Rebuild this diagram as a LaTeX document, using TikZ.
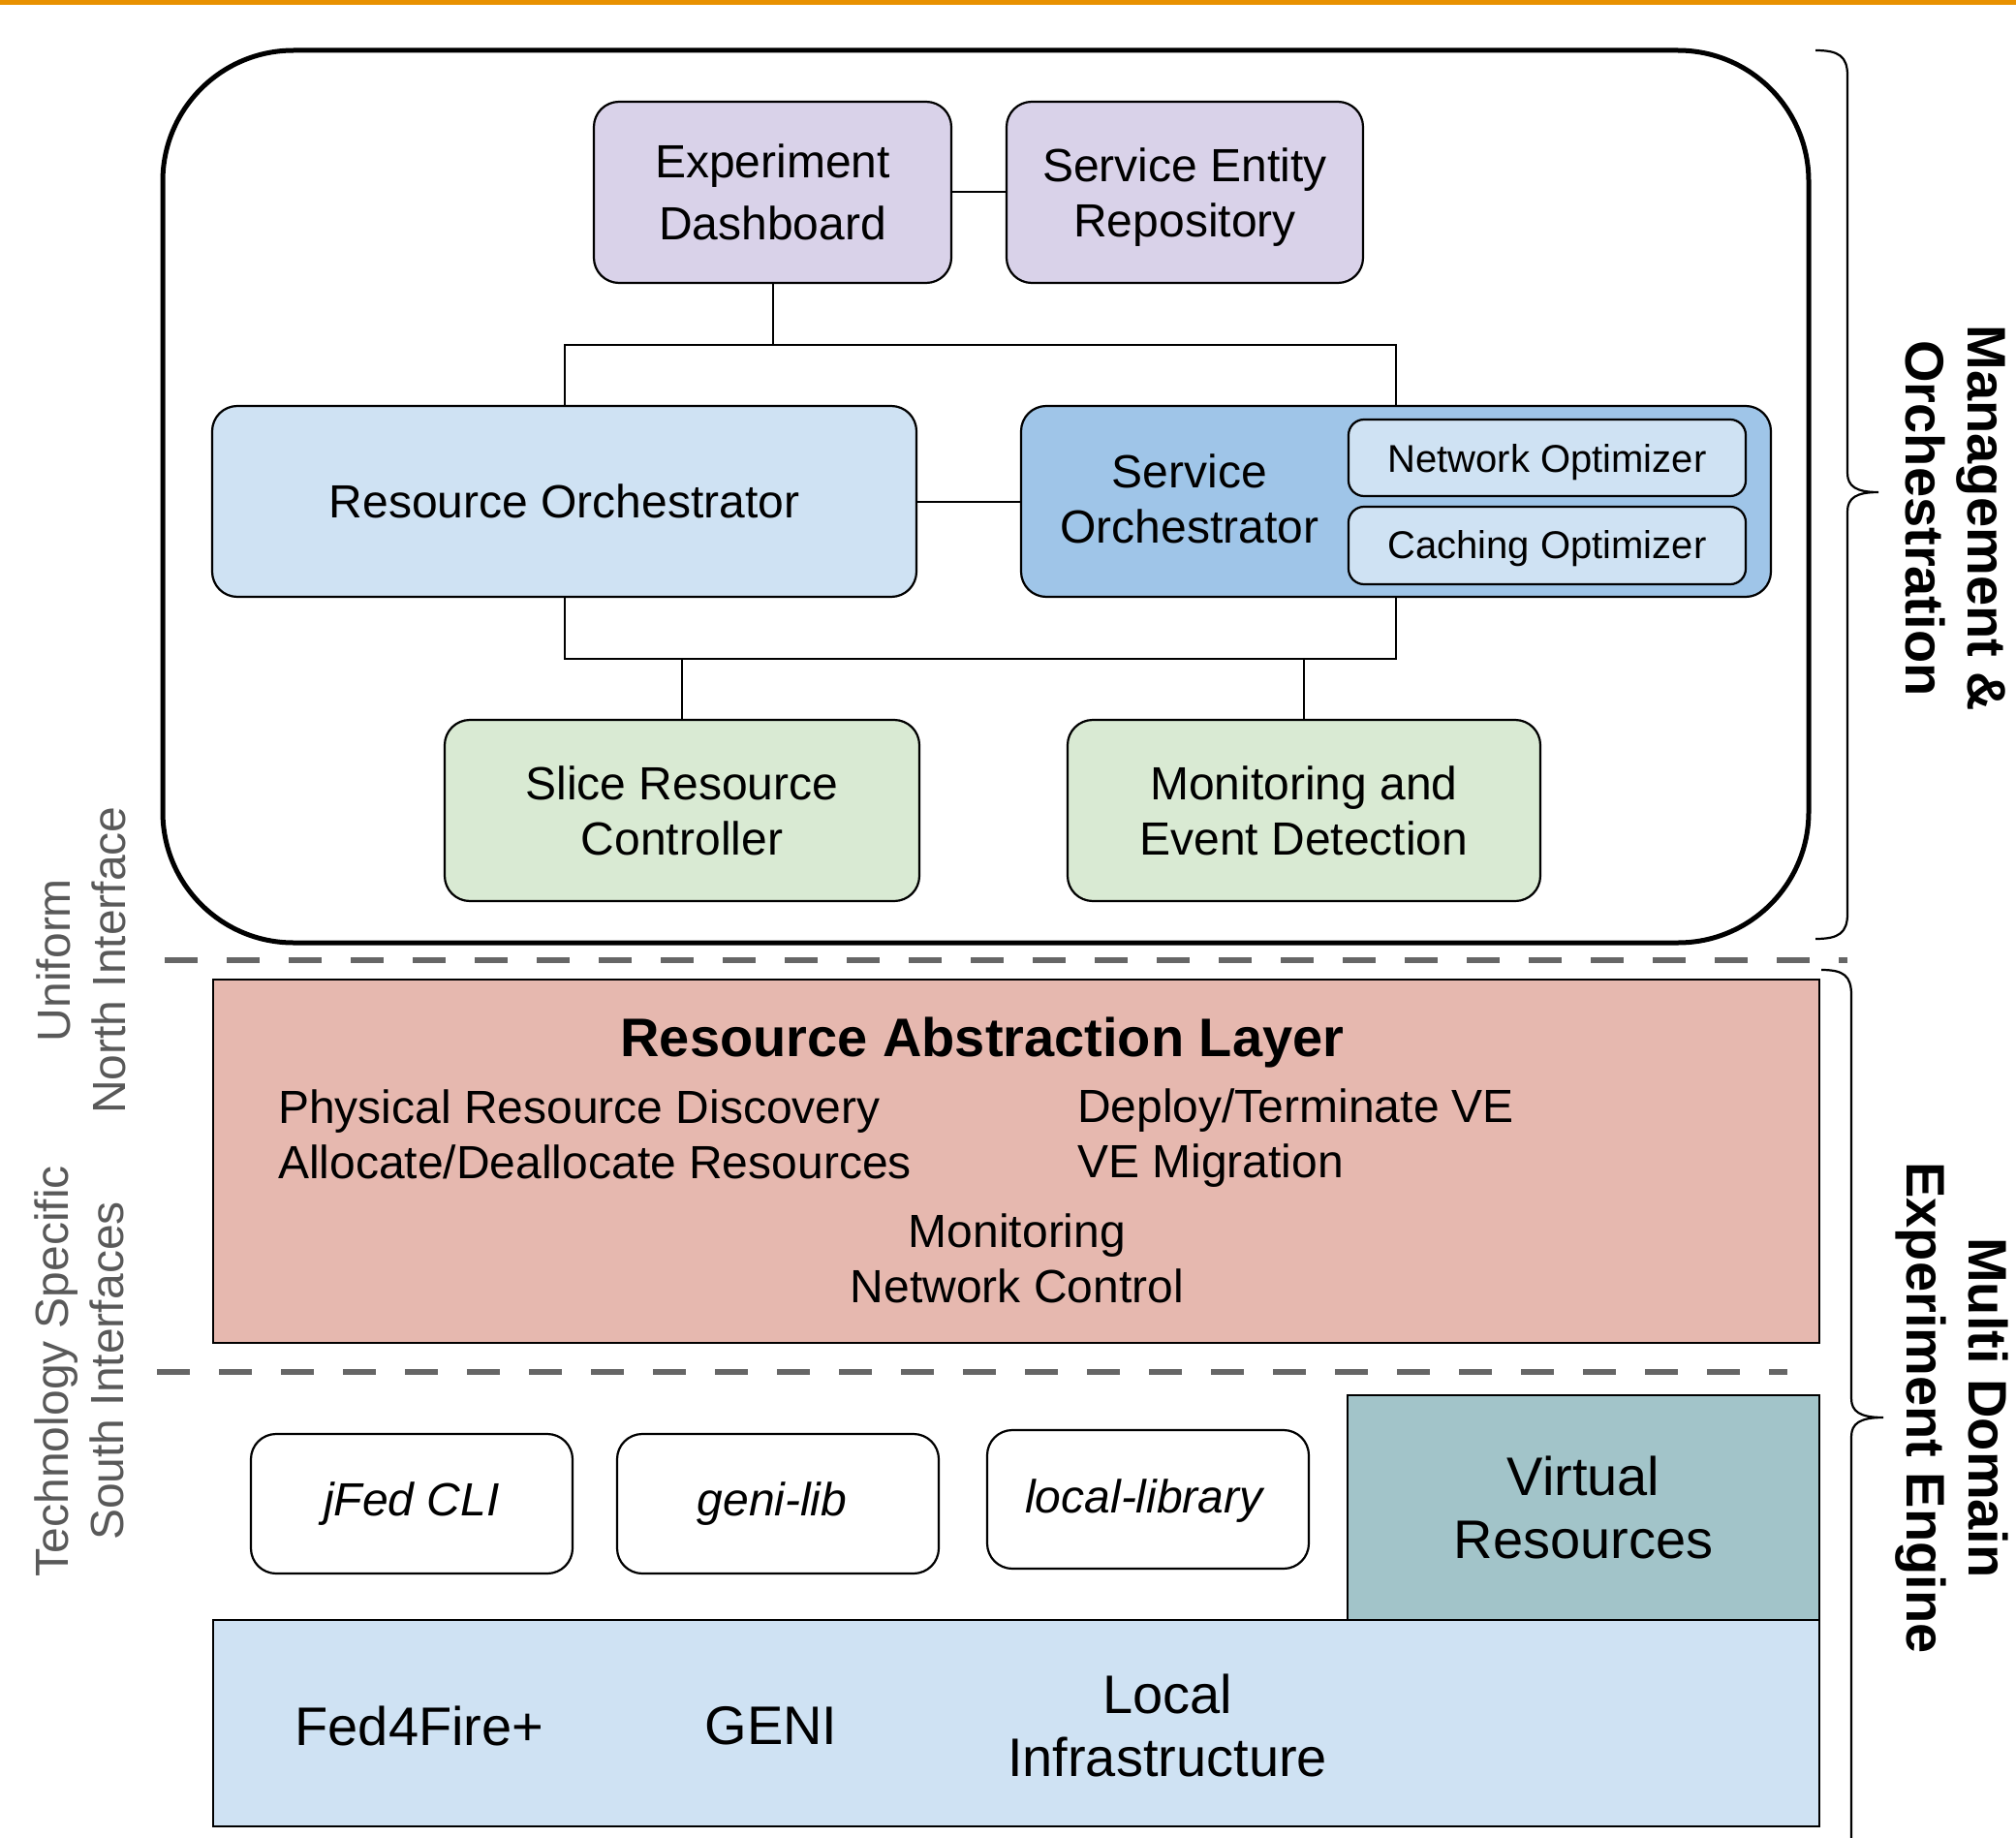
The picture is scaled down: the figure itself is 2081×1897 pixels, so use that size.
\documentclass[tikz,border=0pt]{standalone}
\usepackage{fontspec}
\setmainfont{Liberation Sans}
\definecolor{orangebar}{RGB}{232,145,0}
\definecolor{purp}{RGB}{217,210,233}
\definecolor{lblue}{RGB}{207,226,243}
\definecolor{mblue}{RGB}{159,197,232}
\definecolor{lgreen}{RGB}{217,234,211}
\definecolor{pink}{RGB}{230,184,175}
\definecolor{teal}{RGB}{162,196,201}
\definecolor{dgray}{RGB}{102,102,102}
\definecolor{lgray}{RGB}{89,89,89}
\begin{document}
\begin{tikzpicture}[x=1pt,y=-1pt,
  box/.style={draw=black, line width=2.2pt, rounded corners=26pt, inner sep=0pt, align=center, font=\fontsize{48}{57}\selectfont},
  sbox/.style={draw=black, line width=2.2pt, rounded corners=16pt, inner sep=0pt, align=center, fill=lblue, minimum width=410pt},
  flat/.style={draw=black, line width=2.2pt, inner sep=0pt, align=center},
  conn/.style={draw=black, line width=2pt},
  dashline/.style={draw=dgray, line width=5.5pt, dash pattern=on 34pt off 30pt},
  lbl/.style={inner sep=0pt, align=center, font=\fontsize{48}{57}\selectfont},
  slbl/.style={inner sep=0pt, align=center, font=\fontsize{40}{48}\selectfont},
  sidelbl/.style={inner sep=0pt, align=center, text=lgray, rotate=90, font=\fontsize{48}{57}\selectfont},
  rightlbl/.style={inner sep=0pt, align=center, rotate=-90, font=\bfseries\fontsize{56}{64}\selectfont},
  bracepath/.style={draw=black, line width=2.2pt}
]
\useasboundingbox (0,0) rectangle (2081,1897);
\fill[orangebar] (0,0) rectangle (2081,5);

% outer container
\node[draw=black, line width=5pt, rounded corners=135pt, minimum width=1699pt, minimum height=921pt, inner sep=0pt] (MO) at (1017.5,512.5) {};

% top boxes
\node[box, fill=purp, minimum width=369pt, minimum height=187pt, font=\fontsize{48}{64}\selectfont] (ED) at (797.5,198.5) {Experiment\\Dashboard};
\node[box, fill=purp, minimum width=368pt, minimum height=187pt] (SER) at (1223,198.5) {};
\node[lbl] (SERt) at (1223,204) {Service Entity\\Repository};

\node[box, fill=lblue, minimum width=727pt, minimum height=197pt] (RO) at (582.5,517.5) {Resource Orchestrator};
\node[box, fill=mblue, minimum width=774pt, minimum height=197pt] (SO) at (1441,517.5) {};
\node[lbl] (SOt) at (1228,515) {Service\\Orchestrator};
\node[sbox, minimum height=79pt] (NO) at (1597,472.5) {};
\node[slbl] (NOt) at (1597,477) {Network Optimizer};
\node[sbox, minimum height=80pt] (CO) at (1597,563) {};
\node[slbl] (COt) at (1597,566) {Caching Optimizer};

\node[box, fill=lgreen, minimum width=490pt, minimum height=187pt] (SRC) at (704,836.5) {Slice Resource\\Controller};
\node[box, fill=lgreen, minimum width=488pt, minimum height=187pt] (MED) at (1346,836.5) {Monitoring and\\Event Detection};

% connectors
\coordinate (bus1) at (797.5,356);
\coordinate (bus2) at (704,680);
\coordinate (bus3) at (1346,680);
\draw[conn] (ED.east) -- (SER.west);
\draw[conn] (ED.south) -- (bus1);
\draw[conn] (RO.north) |- (bus1) -| (SO.north);
\draw[conn] (RO.east) -- (SO.west);
\draw[conn] (RO.south) |- (bus2) -- (bus3) -| (SO.south);
\draw[conn] (bus2) -- (SRC.north);
\draw[conn] (bus3) -- (MED.north);

% dashed separators
\coordinate (d1a) at (170,991);
\coordinate (d1b) at (1907,991);
\coordinate (d2a) at (162,1416);
\coordinate (d2b) at (1845,1416);
\draw[dashline] (d1a) -- (d1b);
\draw[dashline] (d2a) -- (d2b);

% resource abstraction layer
\node[flat, fill=pink, minimum width=1658pt, minimum height=375pt] (RAL) at (1049,1198.5) {};
\node[inner sep=0pt, font=\bfseries\fontsize{56}{64}\selectfont] (RALt) at (1014,1076) {Resource Abstraction Layer};
\node[lbl, anchor=west, align=left] (RAL1) at (287,1171) {Physical Resource Discovery\\Allocate/Deallocate Resources};
\node[lbl, anchor=west, align=left] (RAL2) at (1112,1175) {Deploy/Terminate VE\\VE Migration};
\node[lbl] (RAL3) at (1050,1299) {Monitoring\\Network Control};

% libraries
\node[box, fill=white, minimum width=332pt, minimum height=144pt, font=\itshape\fontsize{48}{57}\selectfont] (JF) at (425,1552) {jFed CLI};
\node[box, fill=white, minimum width=332pt, minimum height=144pt] (GL) at (803,1552) {};
\node[inner sep=0pt, font=\itshape\fontsize{48}{57}\selectfont] (GLt) at (797,1552) {geni-lib};
\node[box, fill=white, minimum width=332pt, minimum height=143pt] (LL) at (1185,1547.5) {};
\node[inner sep=0pt, font=\itshape\fontsize{48}{57}\selectfont] (LLt) at (1181,1549) {local-library};
\node[flat, fill=teal, minimum width=487pt, minimum height=232pt, font=\fontsize{56}{65}\selectfont] (VR) at (1634.5,1556) {Virtual\\Resources};

% infrastructure
\node[flat, fill=lblue, minimum width=1658pt, minimum height=213pt] (INF) at (1049,1778.5) {};
\node[inner sep=0pt, font=\fontsize{56}{65}\selectfont] (F4F) at (433,1781) {Fed4Fire+};
\node[inner sep=0pt, font=\fontsize{56}{65}\selectfont] (GENI) at (796,1781) {GENI};
\node[inner sep=0pt, align=center, font=\fontsize{56}{65}\selectfont] (LOC) at (1205,1781) {Local\\Infrastructure};

% side labels
\node[sidelbl] (UNI) at (84,991) {Uniform\\North Interface};
\node[sidelbl] (TSS) at (82,1415) {Technology Specific\\South Interfaces};

% braces
\draw[bracepath] (1874,52) .. controls (1898,52) and (1907,58) .. (1907,78)
  -- (1907,488) .. controls (1907,502) and (1916,508) .. (1939,508)
  .. controls (1916,508) and (1907,514) .. (1907,528)
  -- (1907,943) .. controls (1907,963) and (1898,969) .. (1874,969);
\draw[bracepath] (1880,1001) .. controls (1903,1001) and (1911,1007) .. (1911,1027)
  -- (1911,1443) .. controls (1911,1457) and (1920,1463) .. (1944,1463)
  .. controls (1920,1463) and (1911,1469) .. (1911,1483)
  -- (1911,1897);

\node[rightlbl] (MOt) at (2019,535) {Management \&\\Orchestration};
\node[rightlbl] (MDt) at (2015,1453) {Multi Domain\\Experiment Engine};
\end{tikzpicture}
\end{document}
